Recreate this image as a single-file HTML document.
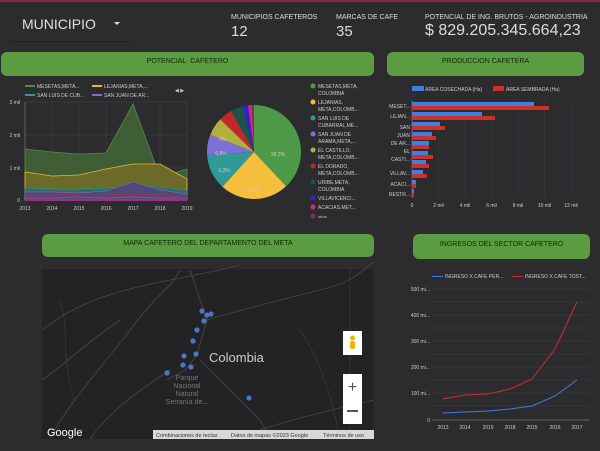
<!DOCTYPE html><html><head><meta charset="utf-8"><style>
body{margin:0;width:600px;height:451px;background:#2c2c2f;font-family:"Liberation Sans",sans-serif;color:#ddd;position:relative;overflow:hidden}
.a{position:absolute;white-space:nowrap}
.h{position:absolute;background:#5b9b41;border-radius:6px;color:#0e2a06;font-size:7px;text-align:center;line-height:22px}
.t{font-size:5px;fill:#ccc;font-family:"Liberation Sans",sans-serif}
</style></head><body>
<div class="a" style="left:0;top:0;width:600px;height:2px;background:#8a2748"></div>
<div class="a" style="left:22px;top:16px;font-size:14px;color:#e0e0e0">MUNICIPIO</div>
<div class="a" style="left:114px;top:22px;width:0;height:0;border-left:3px solid transparent;border-right:3px solid transparent;border-top:3px solid #ddd"></div>
<div class="a" style="left:11px;top:41px;width:121px;height:1px;background:#222"></div>
<div class="a" style="left:231px;top:14px;font-size:7px">MUNICIPIOS CAFETEROS</div>
<div class="a" style="left:231px;top:23px;font-size:15px">12</div>
<div class="a" style="left:336px;top:14px;font-size:7px">MARCAS DE CAFE</div>
<div class="a" style="left:336px;top:23px;font-size:15px">35</div>
<div class="a" style="left:425px;top:14px;font-size:7px">POTENCIAL DE ING. BRUTOS - AGROINDUSTRIA</div>
<div class="a" style="left:425px;top:22px;font-size:16px">$ 829.205.345.664,23</div>
<div class="h" style="left:1px;top:52px;width:373px;height:24px;line-height:20px">POTENCIAL&nbsp; CAFETERO</div>
<div class="h" style="left:387px;top:52px;width:197px;height:24px;line-height:20px">PRODUCCION CAFETERA</div>
<div class="h" style="left:42px;top:234px;width:332px;height:23px;line-height:20px">MAPA CAFETERO DEL DEPARTAMENTO DEL META</div>
<div class="h" style="left:413px;top:234px;width:177px;height:25px;line-height:22px">INGRESOS DEL SECTOR CAFETERO</div>

<svg class="a" style="left:0;top:0" width="600" height="451">
<!-- area chart -->
<g stroke="#444" stroke-width="0.5">
<line x1="25" y1="102" x2="187" y2="102"/><line x1="25" y1="135" x2="187" y2="135"/><line x1="25" y1="168" x2="187" y2="168"/>
<line x1="52" y1="102" x2="52" y2="200"/><line x1="79" y1="102" x2="79" y2="200"/><line x1="106" y1="102" x2="106" y2="200"/><line x1="133" y1="102" x2="133" y2="200"/><line x1="160" y1="102" x2="160" y2="200"/><line x1="187" y1="102" x2="187" y2="200"/>
</g>
<line x1="25" y1="102" x2="25" y2="200" stroke="#888" stroke-width="0.6"/>
<polygon points="25,149 52,152 79,154 106,153 133,104 160,177 187,169 187,200 25,200" fill="#3f5e36" stroke="#5a8a4a" stroke-width="0.8"/>
<polygon points="25,172 52,176 79,175 106,169 133,164 160,164 187,179 187,200 25,200" fill="#6b6a28" stroke="#e6b830" stroke-width="0.8"/>
<polygon points="25,188 52,189 79,189 106,188 133,186 160,187 187,190 187,200 25,200" fill="#356b6a" stroke="#2f9a96" stroke-width="0.6"/>
<polygon points="25,192 52,192 79,193 106,191 133,182 160,190 187,194 187,200 25,200" fill="#4d4a7a" stroke="#7b6fd8" stroke-width="0.5"/>
<polyline points="25,195 52,195 79,194 106,194 133,195 160,194 187,196" fill="none" stroke="#c02a2a" stroke-width="0.6"/>
<polyline points="25,198 52,198 79,197 106,198 133,197 160,198 187,198" fill="none" stroke="#c03090" stroke-width="1"/>
<rect x="25" y="199" width="162" height="2" fill="#9a3080"/>
<text class="t" x="20" y="104" text-anchor="end">3 mil</text><text class="t" x="20" y="137" text-anchor="end">2 mil</text><text class="t" x="20" y="170" text-anchor="end">1 mil</text><text class="t" x="20" y="202" text-anchor="end">0</text>
<g class="t" text-anchor="middle"><text x="25" y="210">2013</text><text x="52" y="210">2014</text><text x="79" y="210">2015</text><text x="106" y="210">2016</text><text x="133" y="210">2017</text><text x="160" y="210">2018</text><text x="187" y="210">2019</text></g>
<rect x="25" y="85" width="10" height="2" fill="#5a8a4a"/><text class="t" x="37" y="88">MESETAS,META...</text>
<rect x="92" y="85" width="10" height="2" fill="#e6b830"/><text class="t" x="104" y="88">LEJANIAS,META,...</text>
<rect x="25" y="94" width="10" height="2" fill="#2f9a96"/><text class="t" x="37" y="97">SAN LUIS DE CUB...</text>
<rect x="92" y="94" width="10" height="2" fill="#7b6fd8"/><text class="t" x="104" y="97">SAN JUAN DE AR...</text>
<text class="t" x="175" y="92" font-size="6">◀ ▶</text>
<!-- pie -->
<g transform="translate(254,152)">
<path d="M0,0 L0,-47 A47,47 0 0 1 32.1,34.3Z" fill="#4c9a48"/>
<path d="M0,0 L32.1,34.3 A47,47 0 0 1 -31.6,34.8Z" fill="#f5be3c"/>
<path d="M0,0 L-31.6,34.8 A47,47 0 0 1 -46.9,3.3Z" fill="#2f9a96"/>
<path d="M0,0 L-46.9,3.3 A47,47 0 0 1 -43.7,-17.3Z" fill="#7b6fd8"/>
<path d="M0,0 L-43.7,-17.3 A47,47 0 0 1 -33.7,-32.7Z" fill="#b0b03a"/>
<path d="M0,0 L-33.7,-32.7 A47,47 0 0 1 -22.8,-41.1Z" fill="#c0282a"/>
<path d="M0,0 L-22.8,-41.1 A47,47 0 0 1 -11.4,-45.6Z" fill="#1a5548"/>
<path d="M0,0 L-11.4,-45.6 A47,47 0 0 1 -5.9,-46.6Z" fill="#3a1fc8"/>
<path d="M0,0 L-5.9,-46.6 A47,47 0 0 1 -2,-47Z" fill="#c82c7a"/>
<path d="M0,0 L-2,-47 A47,47 0 0 1 0,-47Z" fill="#8a2a5a"/>
<text class="t" x="24" y="4" text-anchor="middle" fill="#fff">38,3%</text>
<text class="t" x="-2" y="39" text-anchor="middle" fill="#333">23,1%</text>
<text class="t" x="-30" y="20" text-anchor="middle">9,3%</text>
<text class="t" x="-33" y="3" text-anchor="middle">6,8%</text>
<text class="t" x="-31" y="-11" text-anchor="middle" fill="#333">6%</text>
</g>
<g class="t">
<circle cx="313" cy="86" r="2.5" fill="#4c9a48"/><text x="318" y="88">MESETAS,META,</text><text x="318" y="95">COLOMBIA</text>
<circle cx="313" cy="102" r="2.5" fill="#f5be3c"/><text x="318" y="104">LEJANIAS,</text><text x="318" y="111">META,COLOMB...</text>
<circle cx="313" cy="118" r="2.5" fill="#2f9a96"/><text x="318" y="120">SAN LUIS DE</text><text x="318" y="127">CUBARRAL,ME...</text>
<circle cx="313" cy="134" r="2.5" fill="#7b6fd8"/><text x="318" y="136">SAN JUAN DE</text><text x="318" y="143">ARAMA,META,...</text>
<circle cx="313" cy="150" r="2.5" fill="#b0b03a"/><text x="318" y="152">EL CASTILLO,</text><text x="318" y="159">META,COLOMB...</text>
<circle cx="313" cy="166" r="2.5" fill="#c0282a"/><text x="318" y="168">EL DORADO,</text><text x="318" y="175">META,COLOMB...</text>
<circle cx="313" cy="182" r="2.5" fill="#1a5548"/><text x="318" y="184">URIBE,META,</text><text x="318" y="191">COLOMBIA</text>
<circle cx="313" cy="198" r="2.5" fill="#3a1fc8"/><text x="318" y="200">VILLAVICENCI...</text>
<circle cx="313" cy="207" r="2.5" fill="#c82c7a"/><text x="318" y="209">ACACIAS,MET...</text>
<circle cx="313" cy="216" r="2.5" fill="#8a2a5a"/><text x="318" y="218" font-size="4">otros</text>
</g>
<!-- bar chart -->
<g stroke="#3e3e42" stroke-width="0.5">
<line x1="438.5" y1="100" x2="438.5" y2="198"/><line x1="465" y1="100" x2="465" y2="198"/><line x1="491.5" y1="100" x2="491.5" y2="198"/><line x1="518" y1="100" x2="518" y2="198"/><line x1="544.5" y1="100" x2="544.5" y2="198"/><line x1="571" y1="100" x2="571" y2="198"/>
</g>
<line x1="412" y1="100" x2="412" y2="198" stroke="#888" stroke-width="0.6"/>
<rect x="412" y="86" width="12" height="5" fill="#3f7fe0"/><text class="t" x="425" y="91">AREA COSECHADA (Ha)</text>
<rect x="493" y="86" width="11" height="5" fill="#d0302a"/><text class="t" x="506" y="91">AREA SEMBRADA (Ha)</text>
<g fill="#3f7fe0">
<rect x="412" y="102" width="122" height="4"/><rect x="412" y="112" width="70" height="4"/><rect x="412" y="122" width="28" height="4"/><rect x="412" y="132" width="20" height="4"/><rect x="412" y="141" width="17" height="4"/><rect x="412" y="151" width="16" height="4"/><rect x="412" y="160" width="14" height="4"/><rect x="412" y="170" width="11" height="4"/><rect x="412" y="180" width="4" height="4"/><rect x="412" y="189" width="2" height="4"/>
</g>
<g fill="#d0302a">
<rect x="412" y="106" width="137" height="4"/><rect x="412" y="116" width="83" height="4"/><rect x="412" y="126" width="33" height="4"/><rect x="412" y="136" width="24" height="4"/><rect x="412" y="145" width="17" height="4"/><rect x="412" y="155" width="21" height="4"/><rect x="412" y="164" width="17" height="4"/><rect x="412" y="174" width="15" height="4"/><rect x="412" y="184" width="4" height="4"/><rect x="412" y="193" width="2" height="4"/>
</g>
<g class="t" text-anchor="end" font-size="5.3">
<text x="410" y="108">MESET...</text><text x="410" y="118">LEJAN...</text><text x="410" y="129">SAN</text><text x="410" y="137">JUAN</text><text x="410" y="145">DE AR...</text><text x="410" y="153">EL</text><text x="410" y="161">CASTI...</text><text x="410" y="175">VILLAV...</text><text x="410" y="186">ACACI...</text><text x="410" y="196">RESTR...</text>
</g>
<g class="t" text-anchor="middle"><text x="412" y="207">0</text><text x="438.5" y="207">2 mil</text><text x="465" y="207">4 mil</text><text x="491.5" y="207">6 mil</text><text x="518" y="207">8 mil</text><text x="544.5" y="207">10 mil</text><text x="571" y="207">12 mil</text></g>
<!-- map -->
<rect x="42" y="269" width="332" height="170" fill="#232325"/>
<g fill="none" stroke="#4a4a4c" stroke-width="0.8">
<path d="M42,330 C80,300 120,290 170,280 S220,270 240,265"/>
<path d="M190,270 L200,300 L207,320 L197,355 L185,370 L167,380"/>
<path d="M207,320 C240,310 280,300 320,290 S360,270 374,262"/>
<path d="M200,360 C220,380 240,400 260,420 L270,439"/>
<path d="M50,439 C70,400 100,370 130,330 S170,290 180,270"/>
<path d="M90,439 C110,410 140,390 170,370"/>
<path d="M42,380 C70,360 90,340 120,320"/>
<path d="M260,430 C290,420 330,410 374,400"/>
<path d="M60,300 C70,330 60,360 75,400" stroke-dasharray="1,1"/>
<path d="M350,269 L350,439" stroke-dasharray="1,1"/>
<path d="M300,330 C320,360 330,390 340,439" stroke-dasharray="1,1"/>
</g>
<g fill="#4b76c8">
<circle cx="202" cy="311" r="2.6"/><circle cx="207" cy="315" r="2.6"/><circle cx="211" cy="314" r="2.6"/><circle cx="204" cy="321" r="2.6"/><circle cx="197" cy="330" r="2.6"/><circle cx="193" cy="341" r="2.6"/><circle cx="196" cy="354" r="2.6"/><circle cx="184" cy="356" r="2.6"/><circle cx="183" cy="365" r="2.6"/><circle cx="191" cy="367" r="2.6"/><circle cx="167" cy="373" r="2.6"/><circle cx="249" cy="398" r="2.6"/>
</g>
<text x="209" y="362" font-size="13" fill="#ccc" font-family="Liberation Sans">Colombia</text>
<g font-size="7" fill="#777" text-anchor="middle" font-family="Liberation Sans"><text x="187" y="380">Parque</text><text x="187" y="388">Nacional</text><text x="187" y="396">Natural</text><text x="187" y="404">Serranía de...</text></g>
<rect x="343" y="331" width="19" height="24" fill="#fff"/><circle cx="352.5" cy="338" r="2.5" fill="#f0b400"/><rect x="350" y="341" width="5" height="8" rx="2" fill="#f0b400"/>
<rect x="343" y="374" width="19" height="50" fill="#fff"/>
<text x="352.5" y="392" font-size="16" text-anchor="middle" fill="#555" font-family="Liberation Sans">+</text>
<rect x="347" y="410" width="11" height="2" fill="#555"/>
<text x="47" y="436" font-size="11" fill="#fff" font-family="Liberation Sans">Google</text>
<rect x="153" y="430" width="221" height="9" fill="#d8d8d8"/>
<g font-size="5.5" fill="#333" font-family="Liberation Sans"><text x="156" y="437">Combinaciones de teclas</text><text x="231" y="437">Datos de mapas ©2023 Google</text><text x="323" y="437">Términos de uso</text></g>
<!-- line chart -->
<g stroke="#404044" stroke-width="0.6">
<line x1="432" y1="289" x2="590" y2="289"/><line x1="432" y1="302" x2="590" y2="302"/><line x1="432" y1="315" x2="590" y2="315"/><line x1="432" y1="328" x2="590" y2="328"/><line x1="432" y1="341" x2="590" y2="341"/><line x1="432" y1="354" x2="590" y2="354"/><line x1="432" y1="367" x2="590" y2="367"/><line x1="432" y1="380" x2="590" y2="380"/><line x1="432" y1="393" x2="590" y2="393"/><line x1="432" y1="406" x2="590" y2="406"/>
</g>
<line x1="432" y1="420" x2="590" y2="420" stroke="#999" stroke-width="0.6"/>
<g class="t" text-anchor="end"><text x="430" y="291">500 mi...</text><text x="430" y="317">400 mi...</text><text x="430" y="343">300 mi...</text><text x="430" y="369">200 mi...</text><text x="430" y="395">100 mi...</text><text x="430" y="422">0</text></g>
<polyline points="443,399 465,395 488,394 510,389 532,379 555,349 577,302" fill="none" stroke="#c8302a" stroke-width="1"/>
<polyline points="443,413 465,412 488,411 510,409 532,406 555,396 577,380" fill="none" stroke="#3f7fe0" stroke-width="1"/>
<g class="t" text-anchor="middle"><text x="443" y="429">2013</text><text x="465" y="429">2014</text><text x="488" y="429">2019</text><text x="510" y="429">2018</text><text x="532" y="429">2015</text><text x="555" y="429">2016</text><text x="577" y="429">2017</text></g>
<rect x="432" y="276" width="11" height="1" fill="#3f7fe0"/><text class="t" x="445" y="278">INGRESO X CAFE PER...</text>
<rect x="512" y="276" width="11" height="1" fill="#c8302a"/><text class="t" x="525" y="278">INGRESO X CAFE TOST...</text>
</svg>
</body></html>
